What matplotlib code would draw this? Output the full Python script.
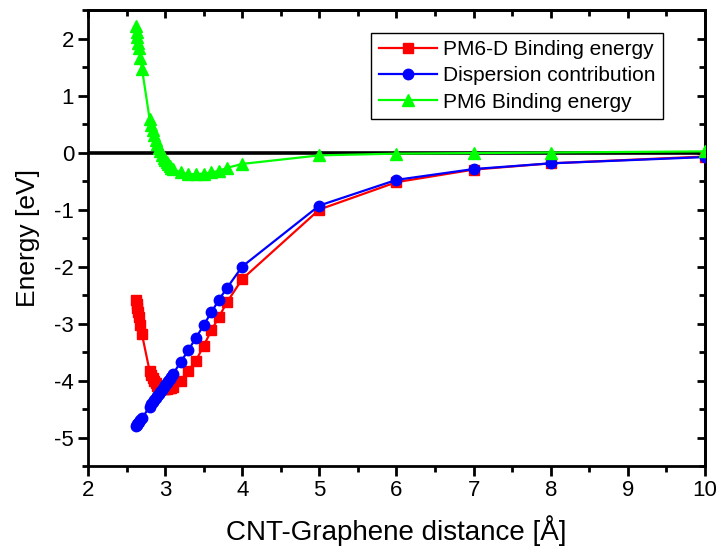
import matplotlib
matplotlib.use("Agg")
import matplotlib.pyplot as plt
from matplotlib.ticker import MultipleLocator

plt.rcParams['font.family'] = ['Liberation Sans', 'DejaVu Sans']
plt.rcParams['axes.unicode_minus'] = False

# CNT-graphene separation (Angstrom)
distance = [2.62, 2.63, 2.64, 2.65, 2.66, 2.68, 2.70,
            2.80, 2.82, 2.84, 2.86, 2.88, 2.90, 2.92, 2.94, 2.96, 2.98,
            3.00, 3.02, 3.04, 3.06, 3.08, 3.10,
            3.2, 3.3, 3.4, 3.5, 3.6, 3.7, 3.8, 4.0, 5.0, 6.0, 7.0, 8.0, 10.0]

# PM6-D total binding energy (eV)
pm6d_energy = [-2.58, -2.65, -2.72, -2.80, -2.88, -3.02, -3.19,
               -3.84, -3.90, -3.96, -4.01, -4.05, -4.09, -4.11, -4.13, -4.14, -4.15,
               -4.15, -4.15, -4.14, -4.14, -4.13, -4.12,
               -4.00, -3.84, -3.65, -3.39, -3.12, -2.88, -2.63, -2.22, -1.00, -0.52, -0.30, -0.19, -0.07]

# Dispersion correction part (eV)
dispersion = [-4.80, -4.78, -4.76, -4.75, -4.73, -4.69, -4.66,
              -4.46, -4.42, -4.38, -4.35, -4.31, -4.27, -4.23, -4.20, -4.16, -4.12,
              -4.08, -4.05, -4.01, -3.97, -3.93, -3.89,
              -3.68, -3.47, -3.25, -3.03, -2.80, -2.58, -2.38, -2.00, -0.93, -0.48, -0.29, -0.19, -0.08]

# Plain PM6 binding energy (eV)
pm6_energy = [2.22, 2.12, 2.02, 1.93, 1.84, 1.65, 1.47,
              0.58, 0.48, 0.39, 0.30, 0.22, 0.15, 0.08, 0.02, -0.04, -0.09,
              -0.13, -0.17, -0.21, -0.24, -0.27, -0.29,
              -0.35, -0.38, -0.38, -0.37, -0.35, -0.32, -0.27, -0.20, -0.05, -0.02, -0.01, 0.00, 0.02]

fig = plt.figure(figsize=(7.16, 5.50), dpi=100)
ax = fig.add_axes([0.1229, 0.1527, 0.8617, 0.8291])

ax.axhline(0, color='black', lw=2.6, zorder=1)

ax.plot(distance, pm6d_energy, color='#ff0000', marker='s', ms=6.5, lw=1.6,
        label='PM6-D Binding energy', zorder=3)
ax.plot(distance, dispersion, color='#0000ff', marker='o', ms=7.5, lw=1.6,
        label='Dispersion contribution', zorder=4)
ax.plot(distance, pm6_energy, color='#00ff00', marker='^', ms=8, lw=1.6,
        label='PM6 Binding energy', zorder=5)

ax.set_xlim(2, 10)
ax.set_ylim(-5.5, 2.5)
ax.xaxis.set_major_locator(MultipleLocator(1))
ax.xaxis.set_minor_locator(MultipleLocator(0.5))
ax.yaxis.set_major_locator(MultipleLocator(1))
ax.yaxis.set_minor_locator(MultipleLocator(0.5))

for s in ax.spines.values():
    s.set_linewidth(2.0)

ax.tick_params(which='both', direction='out', width=2.0, labelsize=16,
               top=False, right=False, pad=3)
ax.tick_params(which='major', length=7)
ax.tick_params(which='minor', length=4)

# inward ticks on top and right edges
ax_top = ax.secondary_xaxis('top')
ax_top.xaxis.set_major_locator(MultipleLocator(1))
ax_top.xaxis.set_minor_locator(MultipleLocator(0.5))
ax_top.tick_params(which='both', direction='in', width=2.0, labeltop=False)
ax_top.tick_params(which='major', length=6)
ax_top.tick_params(which='minor', length=4)
ax_top.spines['top'].set_linewidth(2.0)
ax_right = ax.secondary_yaxis('right')
ax_right.yaxis.set_major_locator(MultipleLocator(1))
ax_right.yaxis.set_minor_locator(MultipleLocator(0.5))
ax_right.tick_params(which='both', direction='in', width=2.0, labelright=False)
ax_right.tick_params(which='major', length=6)
ax_right.tick_params(which='minor', length=4)
ax_right.spines['right'].set_linewidth(2.0)

ax.set_xlabel('CNT-Graphene distance [Å]', fontsize=20, labelpad=10)
ax.set_ylabel('Energy [eV]', fontsize=19, labelpad=10)

leg = ax.legend(loc='upper right', bbox_to_anchor=(0.932, 0.95), fontsize=15,
                frameon=True, fancybox=False, framealpha=1, edgecolor='black',
                handlelength=2.8, handletextpad=0.3, borderpad=0.35,
                labelspacing=0.35, borderaxespad=0)
leg.get_frame().set_linewidth(1.0)

fig.savefig('out.png', dpi=100)
